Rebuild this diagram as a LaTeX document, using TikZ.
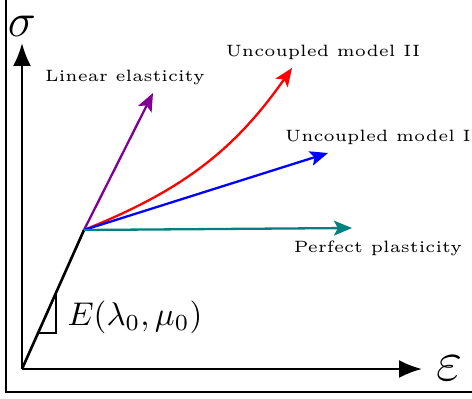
\documentclass[tikz,border=0pt]{standalone}
\usepackage{amsmath}
\usetikzlibrary{arrows.meta, positioning}
\definecolor{elasviolet}{RGB}{128,0,150}

\begin{document}
\begin{tikzpicture}[scale=0.535,
    axis/.style={thick, -{Latex[length=7pt,width=5.5pt]}},
    branch/.style={line width=0.7pt, -{Stealth[length=5.5pt,width=4.5pt,inset=1.2pt]}},
    lbl/.style={font=\tiny}]
  \useasboundingbox (-0.44,-0.58) rectangle (9.0,7.38);
  % frame
  \draw (-0.32,7.6) |- (9.3,-0.46);
  % axes
  \coordinate (O) at (0,0);
  \coordinate (sigtip) at (0,6.52);
  \coordinate (epstip) at (8.0,0);
  \draw[axis] (O) -- (sigtip);
  \draw[axis] (O) -- (epstip);
  \node[font=\Large] (sig) at (0,6.86) {$\sigma$};
  \node[font=\LARGE] (eps) at (8.54,0.02) {$\varepsilon$};
  % elastic part and slope
  \coordinate (Y) at (1.24,2.78);
  \draw[thick] (O) -- (Y);
  \draw (0.32,0.72) -- (0.68,0.72) -- (0.68,1.52);
  \node[anchor=west] (mod) at (0.68,1.04) {$E(\lambda_0,\mu_0)$};
  % branches
  \coordinate (lin) at (2.62,5.52);
  \coordinate (unc2) at (5.40,6.02);
  \coordinate (unc1) at (6.12,4.32);
  \coordinate (perf) at (6.60,2.82);
  \draw[branch, elasviolet] (Y) -- (lin);
  \draw[branch, red] (Y) to[out=22,in=-125] (unc2);
  \draw[branch, blue] (Y) -- (unc1);
  \draw[branch, teal] (Y) -- (perf);
  \node[lbl] (linlbl) at (2.06,5.84) {Linear elasticity};
  \node[lbl] (unc2lbl) at (6.02,6.34) {Uncoupled model II};
  \node[lbl] (unc1lbl) at (7.12,4.64) {Uncoupled model I};
  \node[lbl] (perflbl) at (7.12,2.42) {Perfect plasticity};
\end{tikzpicture}
\end{document}
